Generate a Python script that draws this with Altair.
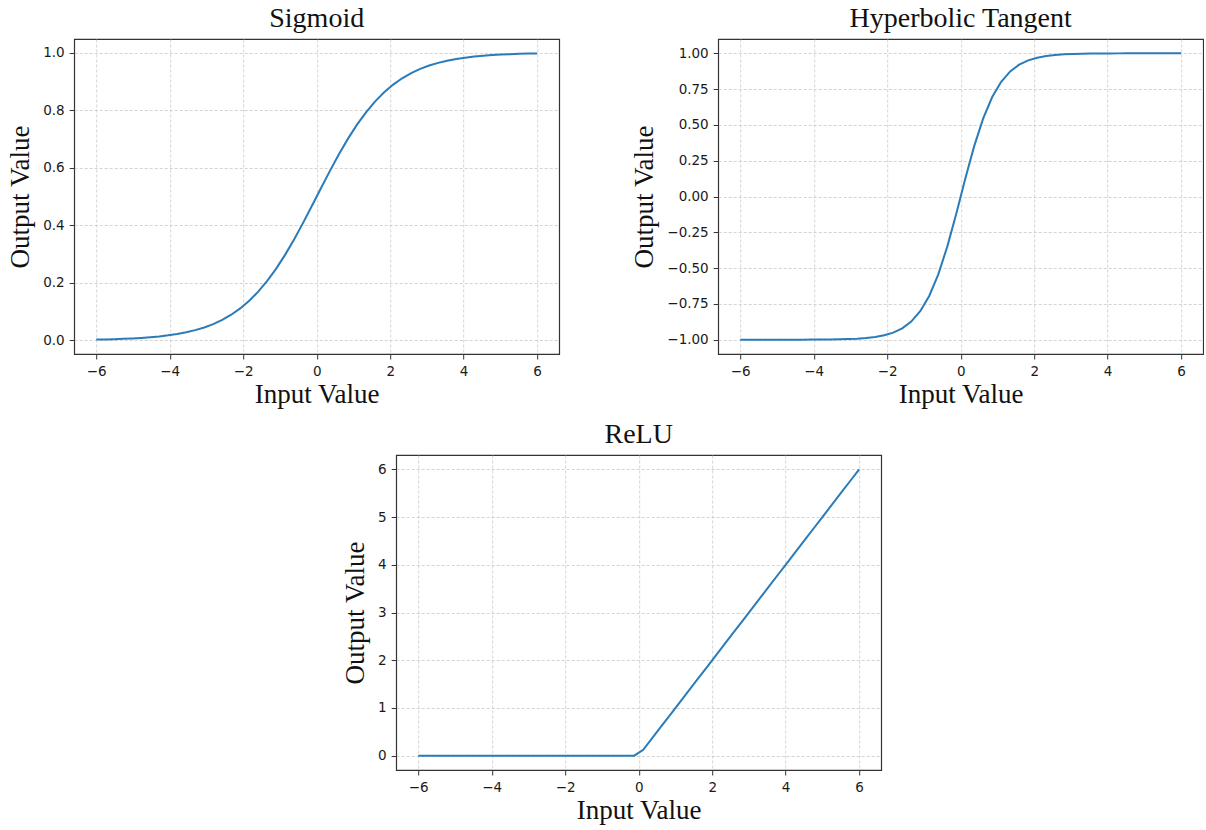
import altair as alt
import pandas as pd

# sample positions (x): 50 evenly spaced inputs from -6 to 6
x_vals = [-6.0, -5.7551, -5.5102, -5.2653, -5.0204, -4.7755, -4.5306, -4.2857, -4.0408, -3.7959,
          -3.551, -3.3061, -3.0612, -2.8163, -2.5714, -2.3265, -2.0816, -1.8367, -1.5918, -1.3469,
          -1.102, -0.8571, -0.6122, -0.3673, -0.1224, 0.1224, 0.3673, 0.6122, 0.8571, 1.102,
          1.3469, 1.5918, 1.8367, 2.0816, 2.3265, 2.5714, 2.8163, 3.0612, 3.3061, 3.551,
          3.7959, 4.0408, 4.2857, 4.5306, 4.7755, 5.0204, 5.2653, 5.5102, 5.7551, 6.0]

sigmoid_vals = [0.0025, 0.0032, 0.0040, 0.0051, 0.0066, 0.0084, 0.0107, 0.0136, 0.0173, 0.0220,
                0.0279, 0.0354, 0.0447, 0.0564, 0.0710, 0.0890, 0.1109, 0.1374, 0.1691, 0.2064,
                0.2494, 0.2980, 0.3516, 0.4092, 0.4694, 0.5306, 0.5908, 0.6484, 0.7020, 0.7506,
                0.7936, 0.8309, 0.8626, 0.8891, 0.9110, 0.9290, 0.9436, 0.9553, 0.9646, 0.9721,
                0.9780, 0.9827, 0.9864, 0.9893, 0.9916, 0.9934, 0.9949, 0.9960, 0.9968, 0.9975]

tanh_vals = [-1.0000, -1.0000, -1.0000, -0.9999, -0.9999, -0.9999, -0.9998, -0.9996, -0.9994, -0.9990,
             -0.9984, -0.9973, -0.9956, -0.9929, -0.9884, -0.9811, -0.9694, -0.9505, -0.9204, -0.8733,
             -0.8012, -0.6948, -0.5457, -0.3517, -0.1218, 0.1218, 0.3517, 0.5457, 0.6948, 0.8012,
             0.8733, 0.9204, 0.9505, 0.9694, 0.9811, 0.9884, 0.9929, 0.9956, 0.9973, 0.9984,
             0.9990, 0.9994, 0.9996, 0.9998, 0.9999, 0.9999, 0.9999, 1.0000, 1.0000, 1.0000]

relu_vals = [0.0, 0.0, 0.0, 0.0, 0.0, 0.0, 0.0, 0.0, 0.0, 0.0,
             0.0, 0.0, 0.0, 0.0, 0.0, 0.0, 0.0, 0.0, 0.0, 0.0,
             0.0, 0.0, 0.0, 0.0, 0.0, 0.1224, 0.3673, 0.6122, 0.8571, 1.102,
             1.3469, 1.5918, 1.8367, 2.0816, 2.3265, 2.5714, 2.8163, 3.0612, 3.3061, 3.551,
             3.7959, 4.0408, 4.2857, 4.5306, 4.7755, 5.0204, 5.2653, 5.5102, 5.7551, 6.0]

x_ticks = [-6, -4, -2, 0, 2, 4, 6]
sig_ticks = [0.0, 0.2, 0.4, 0.6, 0.8, 1.0]
tanh_ticks = [-1.0, -0.75, -0.5, -0.25, 0.0, 0.25, 0.5, 0.75, 1.0]
relu_ticks = [0, 1, 2, 3, 4, 5, 6]

titles = ["Sigmoid", "Hyperbolic Tangent", "ReLU"]

W, H = 485, 315


def panel(ys, title, ydom, yticks, yfmt):
    df = pd.DataFrame({"x": x_vals, "y": ys})
    return alt.Chart(df, title=alt.Title(title)).mark_line(
        color="#2a7bb9", strokeWidth=2
    ).encode(
        x=alt.X("x:Q",
                scale=alt.Scale(domain=[-6.6, 6.6], nice=False, zero=False),
                axis=alt.Axis(values=x_ticks, format="d", title="Input Value")),
        y=alt.Y("y:Q",
                scale=alt.Scale(domain=ydom, nice=False, zero=False),
                axis=alt.Axis(values=yticks, format=yfmt, title="Output Value")),
    ).properties(width=W, height=H)


sig = panel(sigmoid_vals, titles[0], [-0.0475, 1.0475], sig_ticks, ".1f")
tnh = panel(tanh_vals, titles[1], [-1.1, 1.1], tanh_ticks, ".2f")
rel = panel(relu_vals, titles[2], [-0.3, 6.3], relu_ticks, "d")

chart = alt.vconcat(
    alt.hconcat(sig, tnh, spacing=70),
    rel,
    spacing=11,
    center=True,
).properties(
    padding={"left": 6, "top": 4, "right": 0, "bottom": 0},
    background="white",
).configure_view(
    stroke="#333333", strokeWidth=1.2
).configure_axis(
    domain=False,
    grid=True,
    gridColor="#c8c8c8",
    gridDash=[3, 2],
    gridWidth=0.8,
    tickColor="#333333",
    tickSize=5,
    labelFont="DejaVu Sans",
    labelFontSize=13.5,
    labelColor="#1a1a1a",
    labelPadding=5,
    titleFont="Liberation Serif",
    titleFontSize=27,
    titleFontWeight="normal",
    titleColor="#111111",
    titlePadding=4,
).configure_axisY(
    titlePadding=8,
).configure_title(
    font="Liberation Serif",
    fontSize=28,
    fontWeight="normal",
    color="#111111",
    offset=6,
    anchor="middle",
)

chart.save("out.html", embed_options={"renderer": "svg", "actions": False})
